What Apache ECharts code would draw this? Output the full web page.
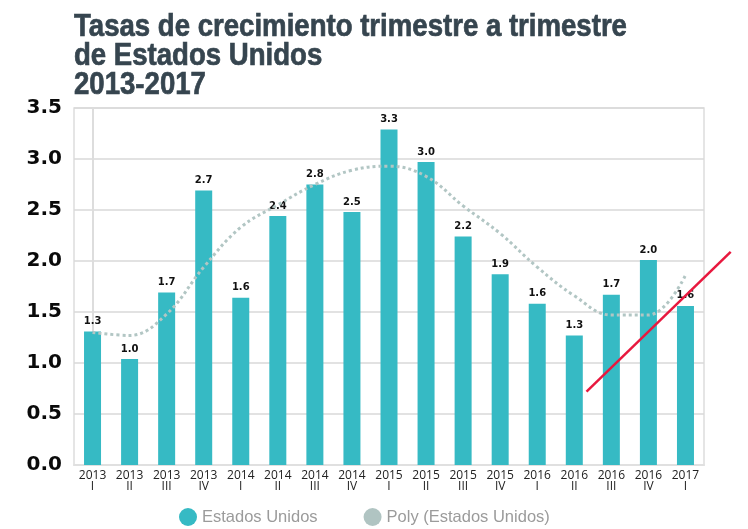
<!DOCTYPE html>
<html>
<head>
<meta charset="utf-8">
<script src="https://cdn.jsdelivr.net/npm/echarts@6/dist/echarts.min.js"></script>
<style>
  html, body { margin: 0; padding: 0; background: #ffffff; }
  #chart { width: 748px; height: 529px; }
</style>
</head>
<body>
<div id="chart"></div>
<script>
// Quarter-on-quarter US growth, 2013 Q1 – 2017 Q1
const years = ['2013', '2013', '2013', '2013', '2014', '2014', '2014', '2014',
               '2015', '2015', '2015', '2015', '2016', '2016', '2016', '2016', '2017'];
const quarters = ['I', 'II', 'III', 'IV', 'I', 'II', 'III', 'IV',
                  'I', 'II', 'III', 'IV', 'I', 'II', 'III', 'IV', 'I'];
const growth = [1.31, 1.04, 1.69, 2.69, 1.64, 2.44, 2.75, 2.48,
                3.29, 2.97, 2.24, 1.87, 1.58, 1.27, 1.67, 2.01, 1.56];
// Polynomial trend line values at each quarter
const polyTrend = [1.30, 1.27, 1.48, 1.94, 2.33, 2.55, 2.75, 2.89,
                   2.93, 2.83, 2.54, 2.27, 1.94, 1.66, 1.47, 1.47, 1.86];
// Red upward-trend annotation: [quarter index, value] end points
const trendStart = [13.33, 0.72];
const trendEnd = [17.22, 2.09];
const yTicks = { min: 0, max: 3.5, interval: 0.5 };

const titleLines = ['Tasas de crecimiento trimestre a trimestre', 'de Estados Unidos', '2013-2017'];

const categories = years.map((y, i) => y + '\n' + quarters[i]);

const chart = echarts.init(document.getElementById('chart'), null, { renderer: 'canvas' });

chart.setOption({
  animation: false,
  backgroundColor: '#ffffff',
  legend: {
    left: 174,
    top: 503,
    icon: 'circle',
    itemWidth: 18,
    itemHeight: 18,
    itemGap: 46,
    textStyle: {
      fontFamily: '"Liberation Sans", Arial, sans-serif',
      fontSize: 16.5,
      color: '#9b9b9b'
    },
    data: [
      { name: 'Estados Unidos', itemStyle: { color: '#36bac4', borderWidth: 0 } },
      { name: 'Poly (Estados Unidos)', itemStyle: { color: '#b0c4c2', borderWidth: 0 } }
    ]
  },
  grid: {
    left: 74,
    right: 44,
    top: 108,
    bottom: 64,
    show: true,
    borderColor: '#dddddd',
    borderWidth: 1.5
  },
  xAxis: [
    {
      type: 'category',
      data: categories,
      boundaryGap: true,
      axisLine: { show: true, lineStyle: { color: '#e0e0e0', width: 2 } },
      axisTick: { show: false },
      axisLabel: {
        interval: 0,
        margin: 5,
        fontFamily: '"Open Sans", sans-serif',
        fontSize: 12,
        lineHeight: 11,
        color: '#222222'
      }
    },
    {
      type: 'value',
      show: false,
      min: -0.5,
      max: 16.5
    }
  ],
  yAxis: {
    type: 'value',
    min: yTicks.min,
    max: yTicks.max,
    interval: yTicks.interval,
    axisLine: { show: true, lineStyle: { color: '#dddddd', width: 2 } },
    axisTick: { show: false },
    splitLine: { show: true, lineStyle: { color: '#d9d9d9', width: 1.5 } },
    axisLabel: {
      margin: 12,
      fontFamily: '"DejaVu Sans", sans-serif',
      fontWeight: 'bold',
      fontSize: 20,
      color: '#0a0a0a',
      formatter: v => v.toFixed(1)
    }
  },
  series: [
    {
      name: 'Estados Unidos',
      type: 'bar',
      data: growth,
      barWidth: 17,
      itemStyle: { color: '#36bac4' },
      label: {
        show: true,
        position: 'top',
        distance: 5,
        fontFamily: '"DejaVu Sans", sans-serif',
        fontWeight: 'bold',
        fontSize: 10,
        color: '#111111',
        formatter: p => p.value.toFixed(1)
      },
      z: 2
    },
    {
      name: 'Poly (Estados Unidos)',
      type: 'line',
      data: polyTrend,
      smooth: 0.4,
      symbol: 'none',
      itemStyle: { color: '#b0c4c2' },
      lineStyle: { color: '#b2c6c4', width: 3, type: [3, 3] },
      z: 3
    }
  ]
});

// Title (condensed bold) and the red trend stroke, placed through the chart's own scales
const p0 = chart.convertToPixel({ xAxisIndex: 1, yAxisIndex: 0 }, trendStart);
const p1 = chart.convertToPixel({ xAxisIndex: 1, yAxisIndex: 0 }, trendEnd);

chart.setOption({
  graphic: [
    {
      type: 'text',
      x: 74,
      y: 13,
      scaleX: 0.862,
      z: 10,
      style: {
        text: titleLines.join('\n'),
        font: 'bold 32px "Liberation Sans", Arial, sans-serif',
        lineHeight: 29,
        fill: '#36454f',
        stroke: '#36454f',
        lineWidth: 0.7,
        textAlign: 'left',
        textVerticalAlign: 'top'
      }
    },
    {
      type: 'line',
      z: 10,
      silent: true,
      shape: { x1: p0[0], y1: p0[1], x2: p1[0], y2: p1[1] },
      style: { stroke: '#e8183e', lineWidth: 2.5 }
    }
  ]
});
</script>
</body>
</html>
